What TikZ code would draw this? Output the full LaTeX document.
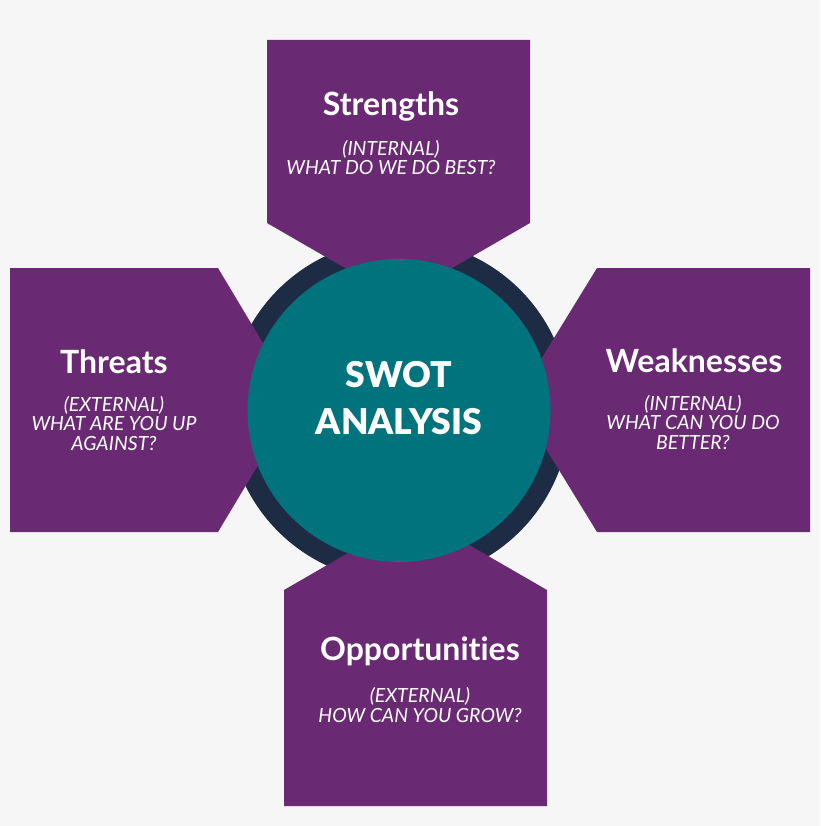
\documentclass[tikz,border=0pt]{standalone}
\usepackage{fontspec}
\setmainfont[Ligatures=NoCommon]{Lato}
\newfontfamily\swotblack{Lato Black}
\definecolor{swotback}{HTML}{F6F6F6}
\definecolor{swotpurple}{HTML}{6A2A73}
\definecolor{swotteal}{HTML}{00737C}
\definecolor{swotring}{HTML}{1E2B45}

\begin{document}
\begin{tikzpicture}
[x=1pt, y=-1pt,
 every node/.style={inner sep=0pt, text=white},
 head/.style={anchor=base, font=\bfseries\fontsize{32}{36}\selectfont},
 sub/.style={anchor=base, align=center, font=\itshape\fontsize{19.5}{19.5}\selectfont},
 arm/.style={fill=swotpurple}]
\useasboundingbox [fill=swotback] (0,0) rectangle (820,826);
\fill [swotring] (399,410.5) circle [radius=171];
\fill [arm] (267,40) -- (530,40) -- (530,223) -- (398.5,299) -- (267,223) -- cycle;
\fill [arm] (10,268) -- (218,268) -- (297,400) -- (218,532) -- (10,532) -- cycle;
\fill [arm] (810,268) -- (597,268) -- (516,400) -- (597,532) -- (810,532) -- cycle;
\fill [arm] (284,806) -- (547,806) -- (547,590) -- (415.5,514) -- (284,590) -- cycle;
\node (center) [circle, minimum size=303pt, fill=swotteal] at (399,410.5) {};
\node (swot) [anchor=base, align=center, font=\swotblack\fontsize{35.5}{47}\selectfont] at (399,434) {SWOT\\ANALYSIS};
\node (s) [head] at (391,116) {Strengths};
\node (s sub) [sub] at (391,175) {(INTERNAL)\\WHAT DO WE DO BEST?};
\node (w) [head] at (694,372) {Weaknesses};
\node (w sub) [sub] at (693,449) {(INTERNAL)\\WHAT CAN YOU DO\\BETTER?};
\node (o) [head] at (420,660) {Opportunities};
\node (o sub) [sub] at (420,722) {(EXTERNAL)\\HOW CAN YOU GROW?};
\node (t) [head] at (114,373) {Threats};
\node (t sub) [sub] at (114,450) {(EXTERNAL)\\WHAT ARE YOU UP\\AGAINST?};
\end{tikzpicture}
\end{document}
